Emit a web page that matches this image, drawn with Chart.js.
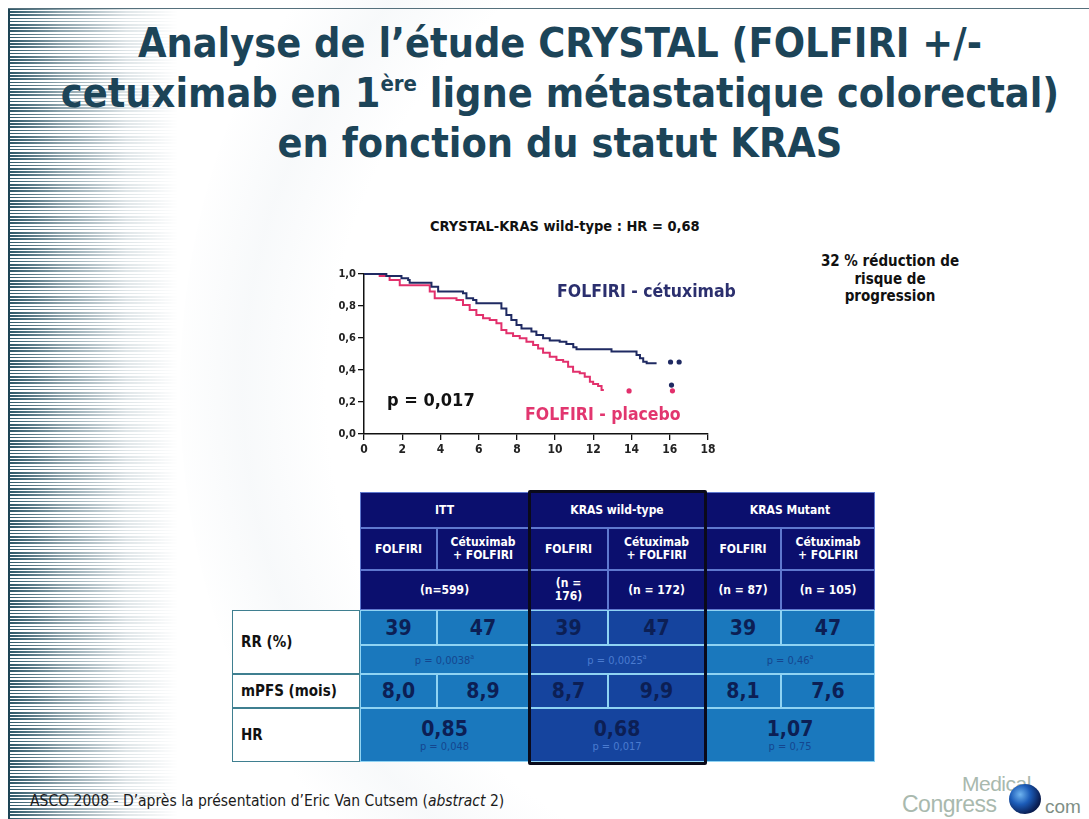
<!DOCTYPE html>
<html lang="fr">
<head>
<meta charset="utf-8">
<title>CRYSTAL KRAS</title>
<script src="https://cdn.jsdelivr.net/npm/chart.js@4.4.1/dist/chart.umd.min.js"></script>
<style>
  html, body { margin: 0; padding: 0; }
  body {
    width: 1089px; height: 819px; overflow: hidden; position: relative;
    background: #fff;
    font-family: "DejaVu Sans Condensed", "DejaVu Sans", sans-serif;
  }
  .swoosh {
    position: absolute; left: 180px; top: -260px; width: 1100px; height: 1300px;
    border-radius: 50%;
    background: radial-gradient(ellipse at 60% 50%, rgba(240,244,246,0) 55%, rgba(238,242,245,0.45) 64%, rgba(246,248,249,0) 72%);
  }
  .stripes {
    position: absolute; left: 8px; top: 8px; width: 170px; height: 811px;
    background: repeating-linear-gradient(to bottom, #2b5566 0 1.6px, #ffffff 1.6px 3.2px);
    -webkit-mask-image: linear-gradient(to right, rgba(0,0,0,1) 0, rgba(0,0,0,0.55) 30%, rgba(0,0,0,0.15) 70%, rgba(0,0,0,0) 100%);
    mask-image: linear-gradient(to right, rgba(0,0,0,1) 0, rgba(0,0,0,0.55) 30%, rgba(0,0,0,0.15) 70%, rgba(0,0,0,0) 100%);
  }
  .edge-left { position: absolute; left: 8px; top: 8px; width: 2px; height: 811px; background: #1d4455; }
  .edge-top { position: absolute; left: 8px; top: 8px; width: 1081px; height: 1px; background: #55707c; }
  .title {
    position: absolute; left: 0; top: 18px; width: 1120px; text-align: center;
    color: #1c4458; font-weight: bold; font-size: 41px; line-height: 50px;
  }
  .title sup { font-size: 22px; vertical-align: 16px; line-height: 0; }
  .txt { position: absolute; white-space: nowrap; font-weight: bold; }
  #chartBox { position: absolute; left: 320px; top: 262px; width: 420px; height: 200px; }
  .cell {
    position: absolute; box-sizing: border-box; display: flex; flex-direction: column;
    align-items: center; justify-content: center; text-align: center; font-weight: bold;
  }
  .hd { background: #0b0f6e; color: #fff; font-size: 12px; line-height: 13px; border: 1px solid #5f78cf; }
  .dv { background: #1a78bd; color: #0c1f55; border: 1px solid #8fd3f3; }
  .dw { background: #15449e; color: #0c1f55; border: 1px solid #8fd3f3; }
  .lb { background: #fff; color: #111; font-size: 15px; border: 1px solid #3f7f90; align-items: flex-start; padding-left: 8px; }
  .big { font-size: 21px; line-height: 22px; }
  .small { font-size: 11px; font-weight: normal; color: #14468f; }
  .dw .small { color: #4a7bd0; }
  .small sup { font-size: 7px; }
  #wtBox { position: absolute; left: 528px; top: 490px; width: 179px; height: 275px; box-sizing: border-box; border: 3px solid #0a0a1a; border-radius: 2px; }
  .footer { position: absolute; left: 30px; top: 792px; font-size: 15.5px; color: #1b1b1b; white-space: nowrap; }
  .logo1 { position: absolute; left: 962px; top: 772px; font-size: 21px; color: #a9b9ae; font-family: "Liberation Sans", sans-serif; letter-spacing: -0.5px; }
  .logo2 { position: absolute; left: 902px; top: 791px; font-size: 23px; color: #a9b9ae; font-family: "Liberation Sans", sans-serif; letter-spacing: -0.5px; }
  .logo3 { position: absolute; left: 1045px; top: 796px; font-size: 19px; color: #7f8f86; font-family: "Liberation Sans", sans-serif; }
  .globe { position: absolute; left: 1009px; top: 784px; width: 32px; height: 30px; border-radius: 50%;
    background: radial-gradient(circle at 35% 35%, #6fb4f0 0, #1c5cb8 35%, #0a1f55 70%, #02081c 100%); }
</style>
</head>
<body>
<div class="swoosh"></div>
<div class="stripes"></div>
<div class="edge-left"></div>
<div class="edge-top"></div>

<div class="title">Analyse de l’étude CRYSTAL (FOLFIRI +/-<br>cetuximab en 1<sup>ère</sup> ligne métastatique colorectal)<br>en fonction du statut KRAS</div>

<div class="txt" style="left:430px; top:218px; font-size:14.5px; color:#111;">CRYSTAL-KRAS wild-type : HR = 0,68</div>
<div class="txt" style="left:790px; top:253px; width:200px; text-align:center; font-size:15px; line-height:17.5px; color:#111; white-space:normal;">32 % réduction de<br>risque de<br>progression</div>

<div id="chartBox"><canvas id="km" width="420" height="200"></canvas></div>
<div class="txt" style="left:557px; top:281px; font-size:17.5px; color:#2b2f6e;">FOLFIRI - cétuximab</div>
<div class="txt" style="left:387px; top:389px; font-size:18px; color:#111;">p = 0,017</div>
<div class="txt" style="left:525px; top:404px; font-size:17.5px; color:#e2366f;">FOLFIRI - placebo</div>

<div id="table"></div>
<div id="wtBox"></div>

<div class="footer">ASCO 2008 - D’après la présentation d’Eric Van Cutsem (<i>abstract</i> 2)</div>
<div class="logo1">Medical</div>
<div class="logo2">Congress</div>
<div class="globe"></div>
<div class="logo3">com</div>

<script>
// Kaplan-Meier data (months, survival without progression)
const cetuxMonths = [0, 1.17, 1.96, 2.31, 2.39, 3.53, 3.88, 5.18, 5.36, 5.71, 5.88, 7.19, 7.45, 7.71, 7.98, 8.24, 8.76, 9.02, 9.37, 9.72, 10.24, 10.59, 10.95, 11.12, 12.95, 14.26, 14.44, 14.61, 14.79, 15.31];
const cetuxSurv   = [1.0, 0.988, 0.973, 0.963, 0.946, 0.921, 0.89, 0.879, 0.848, 0.837, 0.817, 0.785, 0.744, 0.713, 0.681, 0.66, 0.64, 0.619, 0.598, 0.584, 0.577, 0.563, 0.542, 0.529, 0.515, 0.494, 0.473, 0.452, 0.442, 0.442];

const placeboMonths = [0, 0.82, 1.34, 1.87, 3.44, 3.7, 4.84, 5.18, 5.53, 5.88, 6.23, 6.58, 6.93, 7.19, 7.45, 7.8, 8.15, 8.5, 8.85, 9.11, 9.37, 9.72, 10.07, 10.42, 10.68, 10.94, 11.29, 11.55, 11.82, 11.99, 12.25, 12.43, 12.55];
const placeboSurv   = [1.0, 0.988, 0.963, 0.93, 0.89, 0.848, 0.837, 0.806, 0.775, 0.744, 0.723, 0.713, 0.692, 0.65, 0.629, 0.613, 0.598, 0.577, 0.556, 0.535, 0.508, 0.483, 0.463, 0.452, 0.42, 0.389, 0.379, 0.358, 0.327, 0.313, 0.3, 0.275, 0.275];

// censored patients shown as dots
const cetuxCensorMonths = [16.04, 16.49, 16.09];
const cetuxCensorSurv   = [0.45, 0.45, 0.306];
const placeboCensorMonths = [13.87, 16.14];
const placeboCensorSurv   = [0.269, 0.27];

const xTicks = [0, 2, 4, 6, 8, 10, 12, 14, 16, 18];
const yTickLabels = ['0,0', '0,2', '0,4', '0,6', '0,8', '1,0'];

// Table content
const groups = ['ITT', 'KRAS wild-type', 'KRAS Mutant'];
const armNames = ['FOLFIRI', 'Cétuximab<br>+ FOLFIRI'];
const nCounts = [['(n=599)'], ['(n =<br>176)', '(n = 172)'], ['(n = 87)', '(n = 105)']];
const rrValues = [[39, 47], [39, 47], [39, 47]];
const rrPvalues = ['p = 0,0038<sup>a</sup>', 'p = 0,0025<sup>a</sup>', 'p = 0,46<sup>a</sup>'];
const pfsValues = [['8,0', '8,9'], ['8,7', '9,9'], ['8,1', '7,6']];
const hrValues = ['0,85', '0,68', '1,07'];
const hrPvalues = ['p = 0,048', 'p = 0,017', 'p = 0,75'];
const rowLabels = ['RR (%)', 'mPFS (mois)', 'HR'];

const NAVY = '#1f2a62';
const PINK = '#e2306c';

const toPoints = (xs, ys) => xs.map((x, i) => ({ x: x, y: ys[i] }));

const ctx = document.getElementById('km').getContext('2d');
const chart = new Chart(ctx, {
    type: 'line',
    data: {
        datasets: [
            {
                label: 'FOLFIRI - cétuximab',
                data: toPoints(cetuxMonths, cetuxSurv),
                borderColor: NAVY,
                borderWidth: 2,
                stepped: true,
                pointRadius: 0,
                clip: false
            },
            {
                label: 'FOLFIRI - placebo',
                data: toPoints(placeboMonths, placeboSurv),
                borderColor: PINK,
                borderWidth: 2,
                stepped: true,
                pointRadius: 0,
                clip: false
            },
            {
                type: 'scatter',
                label: 'censure cétuximab',
                data: toPoints(cetuxCensorMonths, cetuxCensorSurv),
                backgroundColor: NAVY,
                borderWidth: 0,
                pointRadius: 2.6
            },
            {
                type: 'scatter',
                label: 'censure placebo',
                data: toPoints(placeboCensorMonths, placeboCensorSurv),
                backgroundColor: PINK,
                borderWidth: 0,
                pointRadius: 2.6
            }
        ]
    },
    options: {
        responsive: false,
        animation: false,
        layout: { padding: { top: 12, right: 32, left: 0, bottom: 0 } },
        plugins: { legend: { display: false }, tooltip: { enabled: false } },
        scales: {
            x: {
                type: 'linear',
                min: 0,
                max: 18,
                afterBuildTicks: (s) => { s.ticks = xTicks.map(v => ({ value: v })); },
                ticks: { color: '#222', font: { family: 'DejaVu Sans Condensed', size: 12, weight: 'bold' }, padding: 3, maxRotation: 0 },
                grid: { drawOnChartArea: false, tickLength: 6, color: '#111', lineWidth: 1.3 },
                border: { color: '#111', width: 1.5 },
                afterFit: (s) => { s.height = 28; }
            },
            y: {
                min: 0,
                max: 1,
                ticks: {
                    stepSize: 0.1,
                    color: '#222',
                    font: { family: 'DejaVu Sans Condensed', size: 11, weight: 'bold' },
                    padding: 2,
                    callback: (v, i) => (i % 2 === 0 ? yTickLabels[i / 2] : '')
                },
                grid: { drawOnChartArea: false, tickLength: 6, color: '#111', lineWidth: 1.3 },
                border: { color: '#111', width: 1.5 },
                afterFit: (s) => { s.width = 44; }
            }
        }
    }
});

// Table layout (HTML)
const colX = [360, 437, 529, 608, 705, 781, 875];
const rowY = { h1: 492, h2: 528, h3: 570, rr: 610, rrp: 645, pfs: 674, hr: 708, end: 762 };
const tbl = document.getElementById('table');

function cell(x1, x2, y1, y2, cls, html) {
    const d = document.createElement('div');
    d.className = 'cell ' + cls;
    d.style.left = x1 + 'px';
    d.style.top = y1 + 'px';
    d.style.width = (x2 - x1) + 'px';
    d.style.height = (y2 - y1) + 'px';
    d.innerHTML = html;
    tbl.appendChild(d);
}

groups.forEach((g, gi) => {
    const a = colX[gi * 2], m = colX[gi * 2 + 1], b = colX[gi * 2 + 2];
    const data = gi === 1 ? 'dw' : 'dv';
    cell(a, b, rowY.h1, rowY.h2, 'hd', g);
    cell(a, m, rowY.h2, rowY.h3, 'hd', armNames[0]);
    cell(m, b, rowY.h2, rowY.h3, 'hd', armNames[1]);
    if (nCounts[gi].length === 1) {
        cell(a, b, rowY.h3, rowY.rr, 'hd', nCounts[gi][0]);
    } else {
        cell(a, m, rowY.h3, rowY.rr, 'hd', nCounts[gi][0]);
        cell(m, b, rowY.h3, rowY.rr, 'hd', nCounts[gi][1]);
    }
    cell(a, m, rowY.rr, rowY.rrp, data + ' big', rrValues[gi][0]);
    cell(m, b, rowY.rr, rowY.rrp, data + ' big', rrValues[gi][1]);
    cell(a, b, rowY.rrp, rowY.pfs, data, '<span class="small">' + rrPvalues[gi] + '</span>');
    cell(a, m, rowY.pfs, rowY.hr, data + ' big', pfsValues[gi][0]);
    cell(m, b, rowY.pfs, rowY.hr, data + ' big', pfsValues[gi][1]);
    cell(a, b, rowY.hr, rowY.end, data, '<span class="big">' + hrValues[gi] + '</span><span class="small">' + hrPvalues[gi] + '</span>');
});

cell(232, 360, rowY.rr, rowY.pfs, 'lb', rowLabels[0]);
cell(232, 360, rowY.pfs, rowY.hr, 'lb', rowLabels[1]);
cell(232, 360, rowY.hr, rowY.end, 'lb', rowLabels[2]);
</script>
</body>
</html>
